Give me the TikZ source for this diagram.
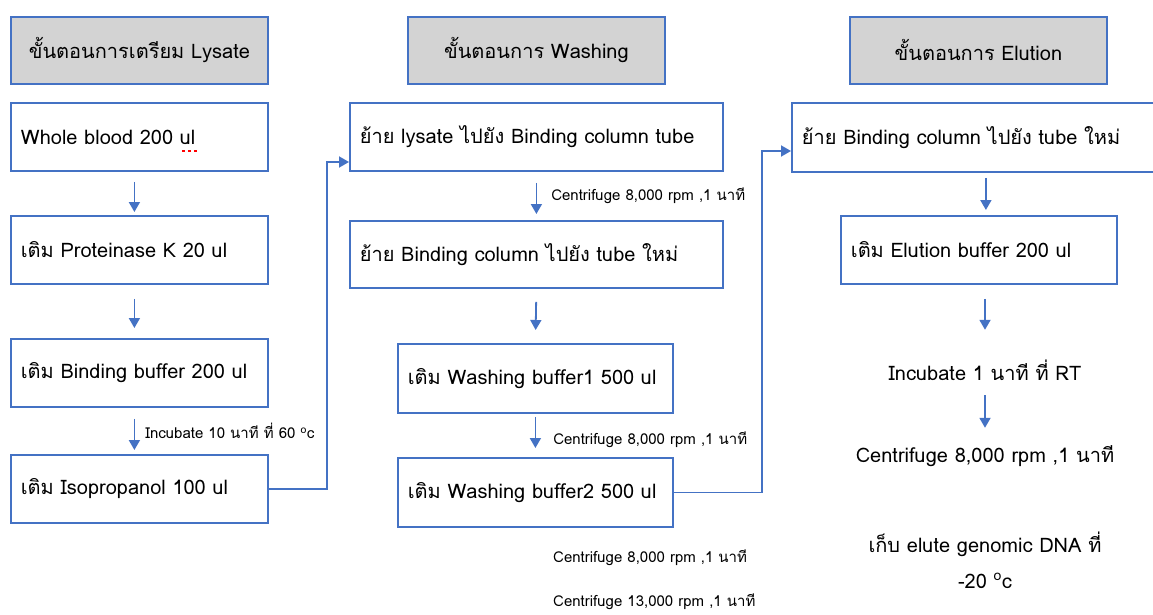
\documentclass[tikz,border=0pt]{standalone}
\usepackage{fontspec}
\setmainfont[Script=Thai]{Loma}
\usepackage{tikz}
\usetikzlibrary{arrows.meta}

\definecolor{boxblue}{RGB}{68,114,196}
\definecolor{headgray}{RGB}{211,211,211}
\tikzset{
  stepbox/.style={draw=boxblue, line width=1.8pt, fill=white, inner xsep=10pt, inner ysep=0pt,
    minimum height=68pt, align=left, anchor=north west, font=\fontsize{20}{24}\selectfont},
  headbox/.style={stepbox, fill=headgray, align=center, text width=237pt, minimum height=67pt},
  flow/.style={draw=boxblue, line width=1.8pt, -{Triangle[length=10pt,width=11pt]}},
  note/.style={font=\fontsize{15}{18}\selectfont, inner sep=0pt},
  plain/.style={font=\fontsize{20}{24}\selectfont, inner sep=0pt, align=center, text height=14pt, text depth=4pt},
}

\begin{document}
\begin{tikzpicture}[x=1pt, y=-1pt]
	\useasboundingbox (0,0) rectangle (1153,615);
	% headers
	\node[headbox] (hlys) at (10,16) {ขั้นตอนการเตรียม Lysate};
	\node[headbox] (hwash) at (407,16) {ขั้นตอนการ Washing};
	\node[headbox] (helu) at (849,16) {ขั้นตอนการ Elution};
	% lysate
	\node[stepbox, text width=237pt] (whole) at (10,102) {Whole blood 200 ul};
	\node[stepbox, text width=237pt] (prot) at (10,215) {เติม Proteinase K 20 ul};
	\node[stepbox, text width=237pt] (bind) at (10,338) {เติม Binding buffer 200 ul};
	\node[stepbox, text width=237pt] (iso) at (10,454) {เติม Isopropanol 100 ul};
	\draw[red, line width=1.5pt, dash pattern=on 3pt off 3pt] (182,151) -- (198,151);
	\draw[flow, shorten <=10pt, shorten >=3pt] ([xshift=-5pt]whole.south) -- ([xshift=-5pt]prot.north);
	\draw[flow, shorten <=14pt, shorten >=10pt] ([xshift=-5pt]prot.south) -- ([xshift=-5pt]bind.north);
	\draw[flow, shorten <=11pt, shorten >=4pt] ([xshift=-5pt]bind.south) -- ([xshift=-5pt]iso.north)
		node[note, midway, right=10pt] {Incubate 10 นาที ที่ 60 \textsuperscript{o}c};
	% washing
	\node[stepbox, text width=353pt] (lysate) at (349,102) {ย้าย lysate ไปยัง Binding column tube};
	\node[stepbox, text width=353pt, minimum height=67pt] (move) at (349,220) {ย้าย Binding column ไปยัง tube ใหม่};
	\node[stepbox, text width=255pt, minimum height=69pt] (wash1) at (397,343) {เติม Washing buffer1 500 ul};
	\node[stepbox, text width=255pt, minimum height=69pt] (wash2) at (397,457) {เติม Washing buffer2 500 ul};
	\coordinate (in2) at (349,162);
	\draw[flow] (iso.east) -- ++(58,0) |- (in2);
	\draw[flow, shorten <=11pt, shorten >=6pt] (lysate.south) -- (move.north)
		node[note, midway, right=14pt] {Centrifuge 8,000 rpm ,1 นาที};
	\draw[flow, shorten <=13pt, shorten >=13pt] (move.south) -- (wash1.north);
	\draw[flow, shorten <=3pt, shorten >=9pt] (wash1.south) -- (wash2.north)
		node[note, midway, right=17pt, yshift=-4pt] {Centrifuge 8,000 rpm ,1 นาที};
	\node[note, anchor=west] (spin1) at (553,558) {Centrifuge 8,000 rpm ,1 นาที};
	\node[note, anchor=west] (spin2) at (553,602) {Centrifuge 13,000 rpm ,1 นาที};
	% elution
	\node[stepbox, text width=368pt, minimum height=69pt] (move3) at (791,102) {ย้าย Binding column ไปยัง tube ใหม่};
	\node[stepbox, text width=256pt] (elu) at (840,215) {เติม Elution buffer 200 ul};
	\coordinate (in3) at (791,151);
	\draw[flow] (wash2.east) -- ++(88,0) |- (in3);
	\node[plain] (incub) at (985,375) {Incubate 1 นาที ที่ RT};
	\node[plain] (spin3) at (985,457) {Centrifuge 8,000 rpm ,1 นาที};
	\node[plain, font=\fontsize{20}{36}\selectfont, text height=, text depth=] (keep) at (985,560) {เก็บ elute genomic DNA ที่\\-20 \textsuperscript{o}c};
	\draw[flow, shorten <=5pt, shorten >=5pt] (move3.south) -- (move3.south |- elu.north);
	\draw[flow, shorten <=14pt, shorten >=36pt] (elu.south -| incub) -- (incub.north);
	\draw[flow, shorten <=11pt, shorten >=20pt] (incub.south) -- (spin3.north);
\end{tikzpicture}
\end{document}
